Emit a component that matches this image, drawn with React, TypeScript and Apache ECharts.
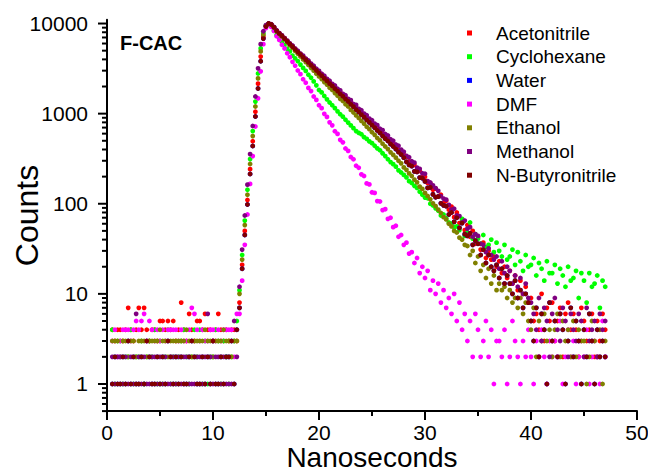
import React, { useEffect, useRef } from "react";
import * as echarts from "echarts";

// Time channels (ns): first channel and channel width
const TIME_START = 0.5;
const TIME_STEP = 0.25;

const SERIES_NAMES = ["Acetonitrile", "Cyclohexane", "Water", "DMF", "Ethanol", "Methanol", "N-Butyronitrile"];
const SERIES_COLORS = ["#ff0000", "#00ff00", "#0000ff", "#ff00ff", "#808000", "#800080", "#800000"];

const X_TICKS = [0, 10, 20, 30, 40, 50];
const Y_LABELS = [1, 10, 100, 1000, 10000];

const acetonitrile = [
  4,3,4,4,3,4,7,4, 3,4,7,4,7,4,3,4, 4,3,5,5,4,5,4,5, 3,4,8,4,3,6,4,3, 5,5,4,6,4,4,3,4, 6,4,3,4,3,4,4,3,
  8,21,50,110,242,494,1050,2150,4300,7150,9350,10000,
  9760,9120,
  8340,7820,7330,6880, 6410,5960,5620,5230, 4890,4590,4300,4020, 3780,3530,3310,3080,
  2900,2730,2550,2390, 2240,2100,1970,1840, 1730,1620,1520,1420, 1340,1250,1170,1095,
  1030,960,900,842, 790,740,690,645, 600,562,525,490, 460,428,400,372,
  350,330,296,282, 270,232,231,198, 199,170,168,143, 147,121,126,101,
  108,86,93,71, 80,61,67,51, 58,43,50,36, 43,31,37,25,
  30,24,26,20, 23,17,20,15, 18,13,16,11, 14,10,12,8,
  9,5,6,4, 10,3,7,5, 8,3,5,7, 2,6,8,4,
  6,4,2,7, 5,3,4,6, 2,5,3,6,
  4,
];

const cyclohexane = [
  4,1,3,3,1,2,2,4, 1,2,2,3,1,2,3,2, 4,1,3,1,2,4,1,2, 1,2,3,4,2,1,2,4, 2,4,1,3,1,2,2,4, 3,1,3,2,1,2,3,5,
  11,27,65,143,313,640,1360,2790,5300,7800,9500,9900,
  9300,8350,
  7450,6900,6250,5800, 5250,4900,4400,4100, 3820,3500,3220,2980, 2700,2500,2280,2060,
  1830,1720,1570,1440, 1330,1240,1150,1060, 985,925,855,795, 740,690,640,612,
  590,548,525,492, 470,440,412,392, 363,338,312,290, 275,258,235,222,
  209,196,178,170, 158,150,136,126, 117,115,100,96, 89,84,74,76,
  69,62,60,55, 56,51,68,44, 48,62,41,46, 41,36,45,33,
  35,40,29,37, 30,26,35,24, 26,31,21,29, 23,18,27,20,
  21,25,16,22, 19,14,23,17, 17,21,13,19, 16,12,20,14,
  15,18,9,17, 14,8,17,12, 13,16,7,14,
  12,
];

const water = [
  1,2,1,1,2,1,3,1, 2,1,1,2,1,3,2,1, 1,2,1,2,1,3,2,1, 2,1,2,1,1,2,3,2, 1,1,2,1,2,1,3,1, 1,2,1,2,2,3,1,4,
  7,19,45,98,214,437,930,1900,3810,6800,9250,10000,
  9740,9110,
  8310,7740,7310,6790, 6360,5890,5560,5140, 4830,4520,4230,3940, 3710,3430,3240,3000,
  2820,2630,2470,2300, 2160,2020,1900,1770, 1655,1555,1455,1365, 1275,1190,1115,1040,
  978,912,853,797, 748,697,652,610, 567,526,499,458, 434,403,376,350,
  325,292,270,262, 229,226,195,192, 177,150,152,127, 118,120,101,96,
  94,76,80,63, 70,54,61,46, 44,47,35,39, 36,27,31,22,
  27,20,18,21, 15,19,13,16, 13,10,14,9, 11,7,10,8,
  5,3,7,2, 6,4,1,8, 3,5,2,6, 4,1,3,7,
  2,5,3,1, 4,2,6,3, 1,4,2,3,
  2,
];

const dmf = [
  3,4,2,3,4,4,4,3, 4,5,4,5,6,3,5,4, 3,4,3,4,3,4,4,4, 4,3,4,3,3,4,7,6, 4,3,4,3,3,4,4,3, 4,3,4,4,4,4,2,6,
  6,14,35,76,166,338,720,1480,2950,5900,8900,9950,
  9180,8270,
  7230,6580,5820,5280, 4680,4230,3760,3400, 3010,2740,2410,2200, 1930,1780,1550,1420,
  1240,1150,995,920, 800,742,638,596, 512,480,410,386, 330,312,264,251,
  212,203,168,164, 134,132,107,106, 85,87,68,70, 55,57,43,45,
  35,37,28,29, 22,25,17,20, 15,18,11,14, 10,13,8,11,
  7,9,6,10, 5,8,4,6, 3,5,2,6, 4,2,3,5,
  2,4,1,3, 3,2,4,1, 2,5,3,2, 1,3,2,4,
  2,1,3,2, 4,2,1,3, 2,3,2,5, 1,2,4,2,
  3,1,2,3, 2,4,1,2, 3,2,1,5,
  2,
];

const ethanol = [
  3,3,3,2,3,3,2,3, 3,2,3,3,3,2,3,3, 3,3,4,3,3,2,3,3, 3,3,3,3,4,3,2,3, 3,3,3,4,3,3,2,3, 3,3,4,3,3,2,3,3,
  10,24,58,126,276,564,1200,2460,4900,7500,9450,10000,
  9720,9050,
  8220,7650,7180,6660, 6200,5740,5370,4960, 4620,4320,4000,3730, 3470,3210,3000,2780,
  2590,2420,2240,2100, 1940,1830,1690,1580, 1460,1380,1270,1200, 1100,1030,955,895,
  830,775,715,672, 622,582,536,505, 463,432,404,372, 349,325,300,281,
  253,238,217,203, 185,173,155,146, 132,122,112,101, 94,86,79,71,
  67,60,56,50, 48,42,40,35, 34,27,30,22, 26,18,21,15,
  19,13,16,11, 13,11,12,9, 11,8,9,7, 9,6,8,5,
  4,7,2,5, 3,6,3,4, 2,4,6,2, 5,3,4,2,
  5,2,4,3, 3,1,2,5, 3,2,4,1,
  3,
];

const methanol = [
  2,1,2,2,1,2,1,2, 1,6,2,1,2,1,1,2, 2,1,2,1,2,1,1,2, 1,2,1,2,2,1,1,1, 2,2,1,2,6,2,1,2, 2,1,2,1,1,1,5,2,
  12,31,74,163,356,730,1550,3180,5900,8200,9600,10000,
  9820,9130,
  8420,7830,7400,6880, 6470,6030,5700,5280, 4990,4630,4410,4080, 3890,3590,3400,3150,
  2980,2770,2630,2430, 2320,2140,2050,1890, 1810,1660,1600,1460, 1410,1280,1250,1130,
  1090,1000,960,880, 845,775,745,680, 655,595,572,520, 500,455,440,398,
  378,340,328,296, 286,252,244,218, 215,178,172,160, 149,139,121,114,
  111,97,86,88, 74,73,62,65, 53,55,43,46, 44,36,35,29,
  32,27,24,26, 19,23,17,20, 18,13,16,12, 15,10,13,9,
  8,6,4,9, 3,7,5,2, 6,9,4,3, 7,5,2,6,
  4,3,6,5, 2,7,3,4, 5,2,6,4,
  5,
];

const nButyronitrile = [
  1,2,1,1,2,1,3,1, 2,1,1,2,1,3,2,1, 1,2,1,2,1,3,2,1, 2,1,2,1,1,2,3,2, 1,1,2,1,2,1,3,1, 1,2,1,2,2,3,1,4,
  7,19,45,98,214,437,930,1900,3810,6800,9250,10000,
  9750,9100,
  8300,7750,7300,6800, 6350,5900,5550,5150, 4820,4530,4220,3950, 3700,3440,3230,3010,
  2810,2640,2460,2310, 2150,2030,1890,1780, 1650,1560,1450,1370, 1270,1195,1110,1045,
  975,915,850,800, 745,700,650,612, 565,528,497,460, 432,405,374,352,
  325,292,270,262, 229,226,195,192, 177,150,152,127, 118,120,101,96,
  94,76,80,63, 70,54,61,46, 44,47,35,39, 36,27,31,22,
  27,20,18,21, 15,19,13,16, 13,10,14,9, 11,7,10,8,
  5,3,7,2, 6,4,1,8, 3,5,2,6, 4,1,3,7,
  2,5,3,1, 4,2,6,3, 1,4,2,3,
  2,
];

const SERIES_VALUES = [acetonitrile, cyclohexane, water, dmf, ethanol, methanol, nButyronitrile];

const FONT = "'Liberation Sans', Arial, Helvetica, sans-serif";

export default function App() {
  const ref = useRef<HTMLDivElement>(null);

  useEffect(() => {
    if (!ref.current) return;
    const chart = echarts.init(ref.current, null, { renderer: "svg" });

    const series = SERIES_VALUES.map((vals, k) => ({
      name: SERIES_NAMES[k],
      type: "scatter",
      symbol: "circle",
      symbolSize: 4.8,
      itemStyle: { color: SERIES_COLORS[k], opacity: 1 },
      data: vals.map((c, i) => [TIME_START + i * TIME_STEP, c]),
      animation: false,
    }));

    chart.setOption({
      animation: false,
      backgroundColor: "#ffffff",
      grid: { left: 107, right: 11, top: 19.8, bottom: 61.9, containLabel: false, outerBoundsMode: "none" },
      legend: {
        orient: "vertical",
        left: 467,
        top: 23,
        padding: 0,
        icon: "rect",
        itemWidth: 5,
        itemHeight: 5,
        itemGap: 3.7,
        selectedMode: false,
        data: SERIES_NAMES,
        textStyle: { fontFamily: FONT, fontSize: 19, color: "#000", lineHeight: 20, padding: [0, 0, 0, 19] },
      },
      xAxis: {
        type: "value",
        min: X_TICKS[0],
        max: X_TICKS[X_TICKS.length - 1],
        interval: 10,
        name: "Nanoseconds",
        nameLocation: "middle",
        nameGap: 33,
        nameMoveOverlap: false,
        nameTextStyle: { fontFamily: FONT, fontSize: 28, color: "#000", lineHeight: 27 },
        axisLine: { show: true, lineStyle: { color: "#000", width: 2 } },
        axisTick: { show: true, inside: false, length: 9, lineStyle: { color: "#000", width: 2 } },
        minorTick: { show: true, splitNumber: 2, length: 5, lineStyle: { color: "#000", width: 2 } },
        axisLabel: { fontFamily: FONT, fontSize: 21, color: "#000", margin: 11, lineHeight: 21 },
        splitLine: { show: false },
        minorSplitLine: { show: false },
      },
      yAxis: {
        type: "log",
        logBase: 10,
        min: 0.5,
        max: 11000,
        name: "Counts",
        nameLocation: "middle",
        nameGap: 64,
        nameMoveOverlap: false,
        nameTextStyle: { fontFamily: FONT, fontSize: 32, color: "#000" },
        axisLine: { show: true, lineStyle: { color: "#000", width: 2 } },
        axisTick: { show: false },
        axisLabel: {
          fontFamily: FONT,
          fontSize: 21,
          color: "#000",
          margin: 19,
          showMinLabel: false,
          showMaxLabel: false,
          formatter: (v: number) => {
            const hit = Y_LABELS.find((l) => Math.abs(l - v) / l < 1e-6);
            return hit !== undefined ? String(hit) : "";
          },
        },
        splitLine: { show: false },
      },
      series,
    });

    // y-axis major/minor ticks positioned through the axis scale
    const x0 = chart.convertToPixel({ xAxisIndex: 0 }, 0) as number;
    const tickEls: any[] = [];
    for (let e = -1; e <= 4; e++) {
      for (let k = 1; k <= 9; k++) {
        const v = k * Math.pow(10, e);
        if (v < 0.5 - 1e-9 || v > 11000) continue;
        const y = chart.convertToPixel({ yAxisIndex: 0 }, v) as number;
        const len = k === 1 ? 9 : 5;
        tickEls.push({
          type: "line",
          silent: true,
          shape: { x1: x0 - len, y1: y, x2: x0, y2: y },
          style: { stroke: "#000", lineWidth: 2 },
        });
      }
    }

    chart.setOption({
      graphic: {
        elements: [
          {
            type: "text",
            left: 120,
            top: 33,
            silent: true,
            style: { text: "F-CAC", fontFamily: FONT, fontSize: 20, fontWeight: "bold", fill: "#000" },
          },
          ...tickEls,
        ],
      },
    });

    return () => chart.dispose();
  }, []);

  return (
    <div
      ref={ref}
      style={{ position: "absolute", left: 0, top: 0, width: 648, height: 473, background: "#fff" }}
    />
  );
}
